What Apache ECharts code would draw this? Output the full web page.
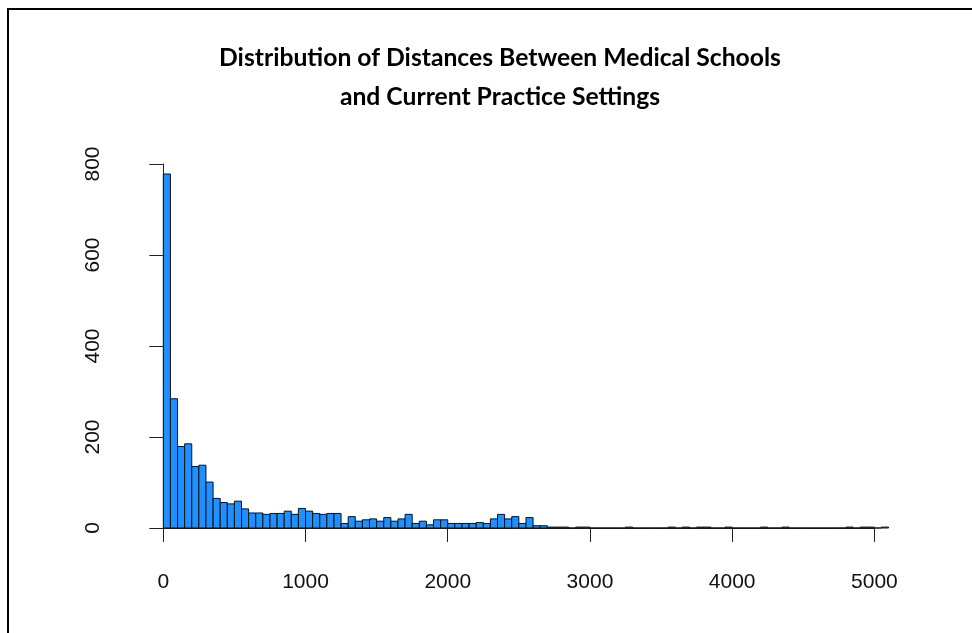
<!DOCTYPE html>
<html>
<head>
<meta charset="utf-8">
<script src="https://cdn.jsdelivr.net/npm/echarts@6/dist/echarts.min.js"></script>
<style>
html,body{margin:0;padding:0;background:#fff;}
#chart{width:972px;height:633px;}
</style>
</head>
<body>
<div id="chart"></div>
<script>
// Histogram of distances (bins of 50 starting at 0)
const binWidth = 50;
const counts = [
  778, 284, 179, 185, 135, 138, 101, 65, 56, 53,
  59, 42, 33, 33, 30, 32, 32, 37, 30, 43,
  37, 32, 30, 32, 32, 10, 25, 15, 18, 20,
  15, 23, 15, 20, 30, 10, 15, 7, 18, 18,
  10, 10, 10, 10, 12, 10, 20, 30, 20, 25,
  10, 23, 5, 5, 2, 2, 2, 0, 2, 2,
  0, 0, 0, 0, 0, 2, 0, 0, 0, 0,
  0, 2, 0, 2, 0, 2, 2, 0, 0, 2,
  0, 0, 0, 0, 2, 0, 0, 2, 0, 0,
  0, 0, 0, 0, 0, 0, 2, 0, 2, 2,
  0, 2
];
const xTicks = [0, 1000, 2000, 3000, 4000, 5000];
const yTicks = [0, 200, 400, 600, 800];
const titleLines = ['Distribution of Distances Between Medical Schools', 'and Current Practice Settings'];

const histData = counts.map((c, i) => [i * binWidth, (i + 1) * binWidth, c]);

const chart = echarts.init(document.getElementById('chart'), null, {renderer: 'canvas'});
const tickFont = {fontFamily: 'Liberation Sans, Arial, sans-serif', fontSize: 21, color: '#111'};
const titleFont = 'bold 24.7px Lato, sans-serif';

chart.setOption({
  animation: false,
  backgroundColor: '#fff',
  graphic: [
    {type: 'rect', shape: {x: 8, y: 9, width: 1000, height: 700}, style: {fill: 'none', stroke: '#000', lineWidth: 2}, silent: true},
    {type: 'text', x: 500, y: 58, style: {text: titleLines[0], font: titleFont, fill: '#000', textAlign: 'center', textVerticalAlign: 'middle'}},
    {type: 'text', x: 500, y: 97, style: {text: titleLines[1], font: titleFont, fill: '#000', textAlign: 'center', textVerticalAlign: 'middle'}}
  ],
  grid: [
    {left: 134.3, right: 54.4, top: 164, height: 364},
    {left: 163.3, width: 711.1, top: 164, height: 364}
  ],
  xAxis: [
    {gridIndex: 0, type: 'value', min: -204, max: 5304, show: false},
    {gridIndex: 1, type: 'value', min: 0, max: 5000, interval: 1000, offset: 14,
     axisLine: {show: true, lineStyle: {color: '#222', width: 1}},
     axisTick: {show: true, length: 14, lineStyle: {color: '#222', width: 1}},
     axisLabel: Object.assign({margin: 30, formatter: function (v) { return String(v); }}, tickFont),
     splitLine: {show: false}}
  ],
  yAxis: [
    {gridIndex: 0, type: 'value', min: 0, max: 800, show: false},
    {gridIndex: 1, type: 'value', min: 0, max: 800, interval: 200, offset: 29,
     axisLine: {show: true, lineStyle: {color: '#222', width: 1}},
     axisTick: {show: true, length: 14, lineStyle: {color: '#222', width: 1}},
     axisLabel: Object.assign({margin: 31, rotate: 90, formatter: function (v) { return String(v); }}, tickFont),
     splitLine: {show: false}}
  ],
  series: [{
    type: 'custom',
    xAxisIndex: 0, yAxisIndex: 0,
    data: histData,
    encode: {x: [0, 1], y: 2},
    renderItem: function (params, api) {
      const p0 = api.coord([api.value(0), api.value(2)]);
      const p1 = api.coord([api.value(1), 0]);
      return {
        type: 'rect',
        shape: {x: p0[0], y: p0[1], width: p1[0] - p0[0], height: p1[1] - p0[1]},
        style: {fill: '#1E90FF', stroke: '#111', lineWidth: 1}
      };
    }
  }]
});
</script>
</body>
</html>
